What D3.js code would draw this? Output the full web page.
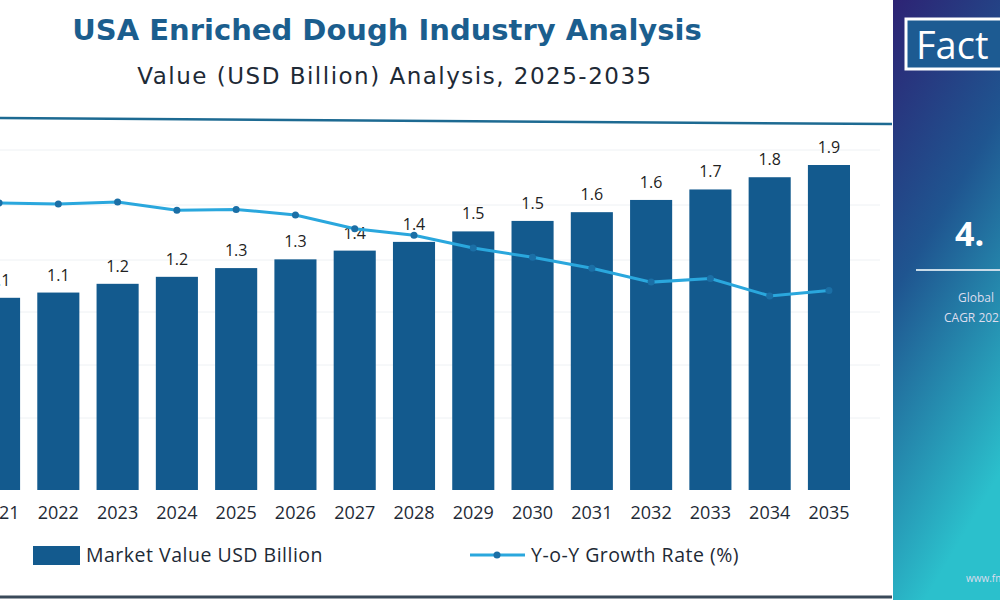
<!DOCTYPE html>
<html><head><meta charset="utf-8">
<script src="https://cdn.jsdelivr.net/npm/d3@7"></script>
<style>body{margin:0;background:#fff}svg{display:block;font-family:"Open Sans",sans-serif}</style>
</head><body><div id="chart"></div>
<script>
// chart data
var years = ["2021","2022","2023","2024","2025","2026","2027","2028","2029","2030","2031","2032","2033","2034","2035"];
var marketValue = [1.10,1.13,1.18,1.22,1.27,1.32,1.37,1.42,1.48,1.54,1.59,1.66,1.72,1.79,1.86];
var valueLabels = ["1.1","1.1","1.2","1.2","1.3","1.3","1.4","1.4","1.5","1.5","1.6","1.6","1.7","1.8","1.9"];
var growthRate = [4.40,4.39,4.41,4.32,4.33,4.27,4.12,4.05,3.91,3.81,3.69,3.54,3.58,3.39,3.45];

var W = 1000, H = 600, baseY = 490;
var svg = d3.select("#chart").append("svg").attr("width", W).attr("height", H);

var x = d3.scaleBand().domain(years).range([-22, 850]).paddingInner(0.29).paddingOuter(0);
var y = d3.scaleLinear().domain([0, 1.86]).range([baseY, 165]);
var yg = d3.scaleLinear().domain([3.4, 4.4]).range([295, 203]);

// faint gridlines
[150, 205, 260, 312, 365, 418].forEach(function(g) {
  svg.append("line").attr("x1", 0).attr("x2", 880).attr("y1", g).attr("y2", g)
    .attr("stroke", "#eef1f4").attr("stroke-width", 1);
});

// top rule
svg.append("line").attr("x1", 0).attr("x2", 892).attr("y1", 118).attr("y2", 124)
  .attr("stroke", "#1d6a92").attr("stroke-width", 2.5);

// titles
svg.append("text").attr("x", 387).attr("y", 40).attr("text-anchor", "middle")
  .attr("font-family", "DejaVu Sans").attr("font-size", 29).attr("font-weight", 700).attr("fill", "#1b5e8e")
  .text("USA Enriched Dough Industry Analysis");
svg.append("text").attr("x", 395).attr("y", 84).attr("text-anchor", "middle")
  .attr("font-family", "DejaVu Sans").attr("font-size", 23).attr("fill", "#1e2a36").attr("letter-spacing", 1.5)
  .text("Value (USD Billion) Analysis, 2025-2035");

// bars
svg.selectAll(".bar").data(years).enter().append("rect")
  .attr("class", "bar")
  .attr("x", function(d) { return x(d); })
  .attr("width", x.bandwidth())
  .attr("y", function(d, i) { return y(marketValue[i]); })
  .attr("height", function(d, i) { return baseY - y(marketValue[i]); })
  .attr("fill", "#135a8e");

svg.selectAll(".vlab").data(years).enter().append("text")
  .attr("x", function(d) { return x(d) + x.bandwidth() / 2; })
  .attr("y", function(d, i) { return y(marketValue[i]) - 12; })
  .attr("text-anchor", "middle").attr("font-size", 16).attr("fill", "#222")
  .text(function(d, i) { return valueLabels[i]; });

// growth line
var line = d3.line()
  .x(function(d, i) { return x(years[i]) + x.bandwidth() / 2; })
  .y(function(d) { return yg(d); });
svg.append("path").datum(growthRate).attr("d", line)
  .attr("fill", "none").attr("stroke", "#2aa7dd").attr("stroke-width", 3);
svg.selectAll(".dot").data(growthRate).enter().append("circle")
  .attr("cx", function(d, i) { return x(years[i]) + x.bandwidth() / 2; })
  .attr("cy", function(d) { return yg(d); })
  .attr("r", 3.5).attr("fill", "#1b6fa6");

// x axis labels
svg.append("g").attr("transform", "translate(0," + baseY + ")")
  .call(d3.axisBottom(x).tickSize(0).tickPadding(16))
  .call(function(g) { g.select(".domain").remove(); })
  .selectAll("text").attr("font-size", 18).attr("fill", "#1e2a36").attr("font-family", "Open Sans");

// legend
svg.append("rect").attr("x", 33).attr("y", 546).attr("width", 47).attr("height", 19).attr("fill", "#135a8e");
svg.append("text").attr("x", 86).attr("y", 562).attr("font-size", 19.5).attr("letter-spacing", 0.5).attr("fill", "#1e2a36").text("Market Value USD Billion");
svg.append("line").attr("x1", 470).attr("x2", 525).attr("y1", 555).attr("y2", 555).attr("stroke", "#2aa7dd").attr("stroke-width", 3);
svg.append("circle").attr("cx", 497).attr("cy", 555).attr("r", 3.5).attr("fill", "#1b6fa6");
svg.append("text").attr("x", 531).attr("y", 562).attr("font-size", 19.5).attr("letter-spacing", 0.5).attr("fill", "#1e2a36").text("Y-o-Y Growth Rate (%)");

// bottom border
svg.append("line").attr("x1", 0).attr("x2", 892).attr("y1", 597).attr("y2", 597).attr("stroke", "#3a4a5a").attr("stroke-width", 3);

// right panel
var grad = svg.append("defs").append("linearGradient").attr("id", "pg")
  .attr("x1", 0).attr("y1", 0).attr("x2", 0.3).attr("y2", 1);
grad.append("stop").attr("offset", "0%").attr("stop-color", "#2d2374");
grad.append("stop").attr("offset", "45%").attr("stop-color", "#1f5590");
grad.append("stop").attr("offset", "100%").attr("stop-color", "#2bc0cc");
svg.append("rect").attr("x", 893).attr("y", 0).attr("width", 107).attr("height", 600).attr("fill", "url(#pg)");
svg.append("rect").attr("x", 906).attr("y", 19).attr("width", 110).attr("height", 50)
  .attr("fill", "#1d5b92").attr("stroke", "#fff").attr("stroke-width", 3);
svg.append("text").attr("x", 916).attr("y", 59).attr("font-size", 38).attr("fill", "#fff").text("Fact");
svg.append("text").attr("x", 955).attr("y", 246).attr("font-size", 34).attr("font-weight", 700).attr("fill", "#fff").text("4.");
svg.append("line").attr("x1", 916).attr("x2", 1000).attr("y1", 270).attr("y2", 270).attr("stroke", "#c8dbe8").attr("stroke-width", 2);
svg.append("text").attr("x", 958).attr("y", 302).attr("font-size", 12).attr("fill", "#dde").text("Global");
svg.append("text").attr("x", 944).attr("y", 322).attr("font-size", 12).attr("fill", "#dde").text("CAGR 2025");
svg.append("text").attr("x", 966).attr("y", 582).attr("font-size", 10).attr("fill", "#dde").text("www.fmi");
</script></body></html>
